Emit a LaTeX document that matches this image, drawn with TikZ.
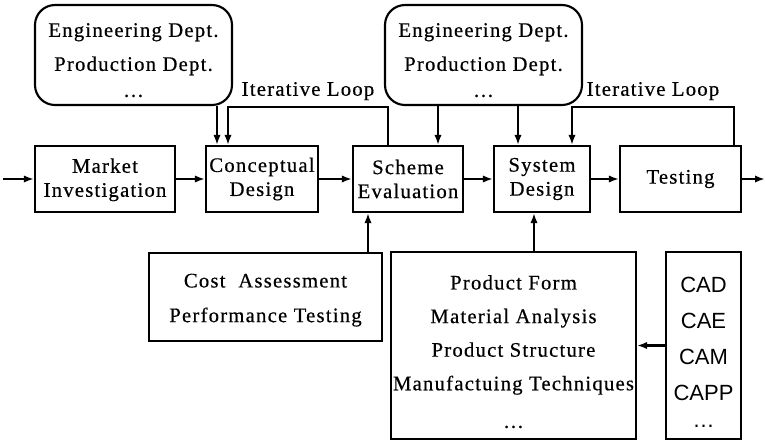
\documentclass[tikz,border=0pt]{standalone}
\usepackage{fontspec}
\setmainfont[LetterSpace=6, FakeBold=0.5]{Liberation Serif}
\newfontfamily\toolfont{Liberation Sans}
\usetikzlibrary{arrows.meta}

% extra height above the first line of a box
\newcommand{\tallline}[1]{\rule{0pt}{#1}}

\tikzset{every picture/.style={line width=1.6pt}}
\tikzset{
  stage/.style={draw, inner sep=0pt, align=center, minimum height=49.5pt,
                font=\fontsize{15.5}{18}\selectfont},
  dept/.style={draw, rounded corners=15pt, inner sep=0pt, align=center,
               minimum width=147.75pt, minimum height=75pt,
               font=\fontsize{15.5}{25.5}\selectfont},
  infobox/.style={draw, inner sep=0pt, align=center,
                  font=\fontsize{15.5}{25.2}\selectfont},
  arr/.style={-{Latex[length=7.5pt,width=5.5pt]}}
}

\begin{document}
\begin{tikzpicture}[x=0.75pt, y=0.75pt, yscale=-1, xscale=1]
    \useasboundingbox (0,0) rectangle (765,440);

    % main flow
    \node [stage, minimum width=105pt]   (market)  at (105,179)   {\tallline{12pt}Market\\Investigation};
    \node [stage, minimum width=84pt]    (concept) at (262,179)   {Conceptual\\Design};
    \node [stage, minimum width=82.5pt]  (scheme)  at (408,179)   {Scheme\\Evaluation};
    \node [stage, minimum width=72pt]    (system)  at (542,179)   {System\\Design};
    \node [stage, minimum width=90.75pt] (testing) at (680.5,179) {Testing};

    % departments
    \node [dept] (deptA) at (133.5,55)
          {\tallline{18pt}Engineering Dept.\\Production Dept.\\[-6pt]\ldots};
    \node [dept] (deptB) at (483.5,55)
          {\tallline{18pt}Engineering Dept.\\Production Dept.\\[-6pt]\ldots};

    % lower boxes
    \node [infobox, minimum width=174.75pt, minimum height=66pt,
           font=\fontsize{15.5}{26}\selectfont] (cost) at (265.5,297)
          {\tallline{15pt}Cost\ \ Assessment\\Performance Testing};
    \node [infobox, minimum width=183.75pt, minimum height=140.25pt] (product) at (513.5,345.5)
          {\tallline{20pt}Product Form\\Material Analysis\\Product Structure\\Manufactuing Techniques\\[3pt]\ldots};
    \node [infobox, minimum width=56.25pt, minimum height=140.25pt,
           font=\toolfont\fontsize{16.5}{27}\selectfont] (tools) at (703.5,345.5)
          {\tallline{22pt}CAD\\CAE\\CAM\\CAPP\\[-7pt]\ldots};

    % in / out
    \coordinate (start) at (3,179);
    \coordinate (finish) at (765,179);
    \draw [arr] (start) -- (market);
    \draw [arr] (market) -- (concept);
    \draw [arr] (concept) -- (scheme);
    \draw [arr] (scheme) -- (system);
    \draw [arr] (system) -- (testing);
    \draw [arr] (testing) -- (finish);

    % Dept - stages
    \coordinate (dA) at (217,0);
    \coordinate (dB) at (438,0);
    \coordinate (dC) at (518,0);
    \draw [arr] (dA |- deptA.south) -- (dA |- concept.north);
    \draw [arr] (dB |- deptB.south) -- (dB |- scheme.north);
    \draw [arr] (dC |- deptB.south) -- (dC |- system.north);

    % Loop scheme - concept
    \coordinate (loopA) at (388,107);
    \coordinate (loopB) at (228,107);
    \draw [arr] (loopA |- scheme.north) -- (loopA) -- (loopB)
          node [midway, above=1pt, font=\fontsize{15.5}{18}\selectfont] {Iterative Loop}
          -- (loopB |- concept.north);

    % Loop testing - system
    \coordinate (loopC) at (734,107);
    \coordinate (loopD) at (572,107);
    \draw [arr] (loopC |- testing.north) -- (loopC) -- (loopD)
          node [midway, above=1pt, font=\fontsize{15.5}{18}\selectfont] {Iterative Loop}
          -- (loopD |- system.north);

    % Lower boxes - stages
    \coordinate (cA) at (368,0);
    \coordinate (pA) at (534,0);
    \draw [arr] (cA |- cost.north) -- (cA |- scheme.south);
    \draw [arr] (pA |- product.north) -- (pA |- system.south);
    \draw [arr] (tools.west) -- (tools.west -| product.east);

\end{tikzpicture}
\end{document}
